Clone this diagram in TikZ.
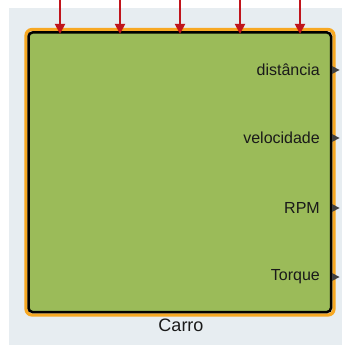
\documentclass[tikz,border=0pt]{standalone}
\usepackage{fontspec}
\setmainfont{Liberation Sans}
\usetikzlibrary{arrows.meta}
\definecolor{bgc}{HTML}{E7EDF1}
\definecolor{orng}{HTML}{F7A823}
\definecolor{grn}{HTML}{9BBB59}
\definecolor{redc}{HTML}{C0141C}
\definecolor{tri}{HTML}{404040}
\definecolor{txt}{HTML}{1A1A1A}
\tikzset{
  inarrow/.style={draw=redc, line width=1.8pt, -{Triangle[width=10pt,length=10pt]}},
  portlbl/.style={anchor=east, inner sep=0pt, text=txt, font=\fontsize{16}{18}\selectfont},
  porttri/.style={fill=tri, draw=none},
}
\begin{document}
\begin{tikzpicture}[x=1pt,y=-1pt]
\useasboundingbox (0,0) rectangle (342,345);
\fill[white] (0,0) rectangle (342,345);
\fill[bgc] (9,8) rectangle (342,345);
% outer orange highlight
\draw[orng, line width=3.2pt, rounded corners=6pt] (26,29.5) rectangle (334,315);
% block
\draw[black, fill=grn, line width=2.5pt, rounded corners=4pt] (28.5,32.5) rectangle (331,312);
% input arrows
\foreach \i/\x in {1/60,2/120,3/180,4/240,5/300}{
  \coordinate (in\i) at (\x,0);
  \coordinate (tip\i) at (\x,34);
  \draw[inarrow] (in\i) -- (tip\i);
}
% output ports
\foreach \n/\y/\t in {p1/70/distância,p2/138/velocidade,p3/208/RPM,p4/277/Torque}{
  \node[portlbl] (\n) at (320,\y) {\t};
  \fill[porttri] (332,\y-4) -- (339.5,\y) -- (332,\y+4) -- cycle;
}
\node[inner sep=0pt, text=txt, font=\fontsize{18}{20}\selectfont] (name) at (181,325) {Carro};
\end{tikzpicture}
\end{document}
